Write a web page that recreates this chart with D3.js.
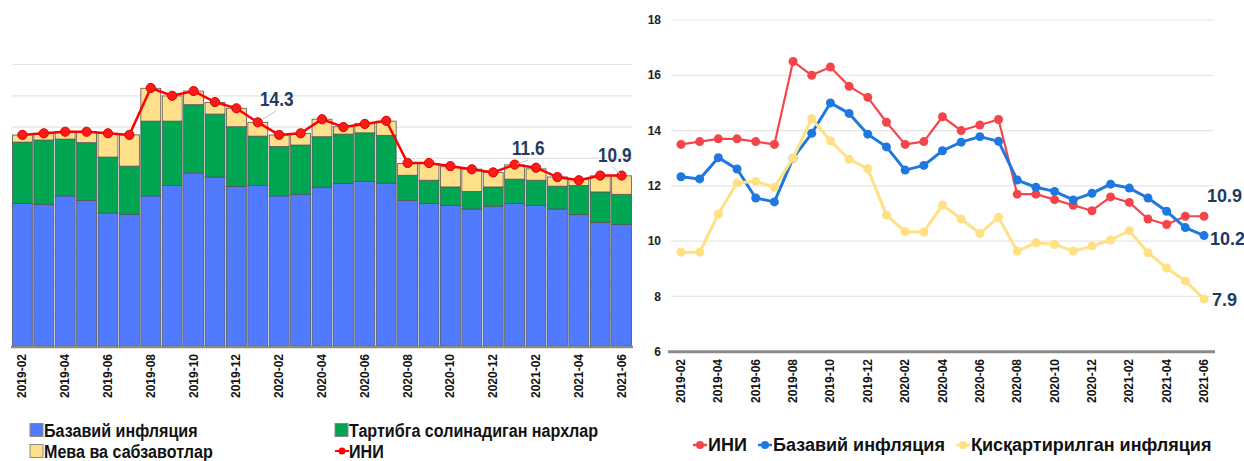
<!DOCTYPE html>
<html>
<head>
<meta charset="utf-8">
<script src="https://cdn.jsdelivr.net/npm/d3@7"></script>
<style>
  body { margin: 0; background: #fff; }
  svg { display: block; }
  text { font-family: "Liberation Sans", Arial, sans-serif; }
</style>
</head>
<body>
<div id="chart"></div>
<script>
// months shown on both charts
const months = ["2019-02","2019-03","2019-04","2019-05","2019-06","2019-07","2019-08","2019-09","2019-10","2019-11","2019-12",
  "2020-01","2020-02","2020-03","2020-04","2020-05","2020-06","2020-07","2020-08","2020-09","2020-10","2020-11","2020-12",
  "2021-01","2021-02","2021-03","2021-04","2021-05","2021-06"];

// left chart: contributions (stacked)
const baseContrib = [9.11,9.04,9.60,9.30,8.50,8.42,9.60,10.26,11.07,10.80,10.20,10.26,9.60,9.70,10.15,10.39,10.52,10.41,9.32,9.11,8.98,8.76,8.94,9.11,8.98,8.76,8.40,7.91,7.76];
const regContrib = [3.93,4.13,3.63,3.70,3.58,3.08,4.78,4.12,4.36,4.03,3.82,3.16,3.16,3.15,3.23,3.16,3.11,3.06,1.60,1.49,1.19,1.12,1.23,1.56,1.62,1.46,1.86,1.94,1.94];
const fruitContrib = [0.45,0.43,0.49,0.70,1.52,2.00,2.10,1.61,0.87,0.74,1.18,0.88,0.73,0.75,1.12,0.47,0.61,0.91,0.75,1.07,1.29,1.43,0.93,0.91,0.73,0.59,0.39,1.03,1.18];

// ИНИ (CPI), used on both charts
const cpi = [13.5,13.6,13.7,13.7,13.6,13.5,16.5,16.0,16.3,15.6,15.2,14.3,13.5,13.6,14.5,14.0,14.2,14.4,11.7,11.7,11.5,11.3,11.1,11.6,11.4,10.8,10.6,10.9,10.9];

// right chart: core and trimmed inflation
const core = [12.33,12.25,13.02,12.61,11.56,11.42,13.00,13.90,15.00,14.62,13.87,13.41,12.57,12.74,13.27,13.58,13.78,13.61,12.21,11.95,11.80,11.49,11.73,12.06,11.92,11.56,11.08,10.49,10.20];
const trimmed = [9.60,9.60,10.98,12.11,12.16,11.95,13.00,14.43,13.63,12.96,12.62,10.94,10.34,10.33,11.31,10.80,10.28,10.86,9.64,9.94,9.88,9.64,9.82,10.04,10.38,9.58,9.03,8.56,7.90];

const leftTicks = [2,4,6,8,10,12,14,16,18];
const rightTicks = [6,8,10,12,14,16,18];
const tickMonths = months.filter((m, i) => i % 2 === 0);

const W = 1244, H = 461;
const svg = d3.select("#chart").append("svg")
  .attr("width", W).attr("height", H);

// narrow bold text (Arial Narrow look, squeezed horizontally)
function narrowText(parent, x, y, txt, size, fill, sx) {
  return parent.append("text")
    .attr("transform", `translate(${x},${y}) scale(${sx || 0.82},1)`)
    .style("font-size", size + "px")
    .style("font-weight", "bold")
    .style("fill", fill)
    .text(txt);
}

// ---------- left chart ----------
const stackData = months.map((m, i) => ({month: m, base: baseContrib[i], reg: regContrib[i], fruit: fruitContrib[i]}));
const keys = ["base", "reg", "fruit"];
const barColors = {base: "#507bff", reg: "#00a651", fruit: "#ffe08a"};

const xL = d3.scaleBand().domain(months).range([12, 632]).paddingInner(0.07).paddingOuter(0.02);
const yL = d3.scaleLinear().domain([0, 18]).range([346, 64.5]);

const left = svg.append("g");

left.selectAll(".gridL")
  .data(leftTicks)
  .enter().append("line")
  .attr("x1", 12).attr("x2", 632)
  .attr("y1", d => yL(d)).attr("y2", d => yL(d))
  .attr("stroke", "#e4e4e4").attr("stroke-width", 1.2);

const series = d3.stack().keys(keys)(stackData);
left.selectAll(".layer")
  .data(series)
  .enter().append("g")
  .attr("fill", d => barColors[d.key])
  .selectAll("rect")
  .data(d => d)
  .enter().append("rect")
  .attr("x", d => xL(d.data.month))
  .attr("width", xL.bandwidth())
  .attr("y", d => yL(d[1]))
  .attr("height", d => yL(d[0]) - yL(d[1]))
  .attr("stroke", "#555")
  .attr("stroke-width", 0.8);

left.append("line")
  .attr("x1", 11).attr("x2", 633)
  .attr("y1", yL(0) + 1).attr("y2", yL(0) + 1)
  .attr("stroke", "#8a8a8a").attr("stroke-width", 2.5);

const lineL = d3.line()
  .x((d, i) => xL(months[i]) + xL.bandwidth() / 2)
  .y(d => yL(d));

left.append("path")
  .datum(cpi)
  .attr("d", lineL)
  .attr("fill", "none")
  .attr("stroke", "#ff0000")
  .attr("stroke-width", 2.5);

left.selectAll(".dotL")
  .data(cpi)
  .enter().append("circle")
  .attr("cx", (d, i) => xL(months[i]) + xL.bandwidth() / 2)
  .attr("cy", d => yL(d))
  .attr("r", 4.6)
  .attr("fill", "#ff1a1a")
  .attr("stroke", "#e00000")
  .attr("stroke-width", 1);

// x labels
left.selectAll(".xlabL")
  .data(tickMonths)
  .enter().append("text")
  .attr("transform", d => `translate(${xL(d) + xL.bandwidth() / 2 + 4},354) rotate(-90)`)
  .attr("text-anchor", "end")
  .style("font-size", "12px")
  .style("font-weight", "bold")
  .style("fill", "#111")
  .text(d => d);

// value callouts with leader lines
const callouts = [
  {idx: 11, tx: 260, ty: 106, l: [263, 119, 276, 111]},
  {idx: 23, tx: 512, ty: 155, l: [517, 164, 528, 160]},
  {idx: 28, tx: 598, ty: 162, l: [613, 167, 620, 174]}
];
callouts.forEach(c => {
  left.append("line")
    .attr("x1", c.l[0]).attr("y1", c.l[1])
    .attr("x2", c.l[2]).attr("y2", c.l[3])
    .attr("stroke", "#c4c4c4").attr("stroke-width", 1);
  narrowText(left, c.tx, c.ty, cpi[c.idx].toFixed(1), 21, "#243b5e");
});

// left legend
const legL = [
  {name: "Базавий инфляция", color: barColors.base, x: 30, y: 430, type: "rect"},
  {name: "Тартибга солинадиган нархлар", color: barColors.reg, x: 335, y: 430, type: "rect"},
  {name: "Мева ва сабзавотлар", color: barColors.fruit, x: 30, y: 451, type: "rect"},
  {name: "ИНИ", color: "#ff0000", x: 335, y: 451, type: "line"}
];
legL.forEach(l => {
  if (l.type === "rect") {
    left.append("rect")
      .attr("x", l.x).attr("y", l.y - 6.5)
      .attr("width", 13).attr("height", 13)
      .attr("fill", l.color).attr("stroke", "#8a8a8a").attr("stroke-width", 1);
  } else {
    left.append("line")
      .attr("x1", l.x).attr("x2", l.x + 14)
      .attr("y1", l.y).attr("y2", l.y)
      .attr("stroke", l.color).attr("stroke-width", 2);
    left.append("circle")
      .attr("cx", l.x + 7).attr("cy", l.y).attr("r", 3.5)
      .attr("fill", l.color);
  }
  narrowText(left, l.x + 14, l.y + 6.5, l.name, 18.5, "#111", 0.87);
});

// ---------- right chart ----------
const xR = d3.scalePoint().domain(months).range([681, 1204]);
const yR = d3.scaleLinear().domain([6, 18]).range([351.7, 20]);

const right = svg.append("g");

right.selectAll(".gridR")
  .data(rightTicks.filter(d => d > 6))
  .enter().append("line")
  .attr("x1", 671).attr("x2", 1213)
  .attr("y1", d => yR(d)).attr("y2", d => yR(d))
  .attr("stroke", "#e6e6e6").attr("stroke-width", 1.2);

right.append("line")
  .attr("x1", 668).attr("x2", 1215)
  .attr("y1", yR(6)).attr("y2", yR(6))
  .attr("stroke", "#8a8a8a").attr("stroke-width", 3);

right.selectAll(".ylabR")
  .data(rightTicks)
  .enter().append("text")
  .attr("x", 661)
  .attr("y", d => yR(d))
  .attr("dy", "0.35em")
  .attr("text-anchor", "end")
  .style("font-size", "12px")
  .style("font-weight", "bold")
  .style("fill", "#222")
  .text(d => d);

right.selectAll(".xlabR")
  .data(tickMonths)
  .enter().append("text")
  .attr("transform", d => `translate(${xR(d) + 4},359) rotate(-90)`)
  .attr("text-anchor", "end")
  .style("font-size", "12px")
  .style("font-weight", "bold")
  .style("fill", "#111")
  .text(d => d);

const rightSeries = [
  {name: "ИНИ", values: cpi, color: "#f4464a", width: 2.2},
  {name: "Базавий инфляция", values: core, color: "#1f78e0", width: 3},
  {name: "Қисқартирилган инфляция", values: trimmed, color: "#ffe083", width: 3}
];

const lineR = d3.line()
  .x((d, i) => xR(months[i]))
  .y(d => yR(d));

rightSeries.forEach(s => {
  right.append("path")
    .datum(s.values)
    .attr("d", lineR)
    .attr("fill", "none")
    .attr("stroke", s.color)
    .attr("stroke-width", s.width)
    .attr("stroke-linejoin", "round");
  right.selectAll(null)
    .data(s.values)
    .enter().append("circle")
    .attr("cx", (d, i) => xR(months[i]))
    .attr("cy", d => yR(d))
    .attr("r", 4.5)
    .attr("fill", s.color);
});

// end labels
const last = months.length - 1;
const endLabels = [
  {v: cpi[last], dx: 3, dy: -14},
  {v: core[last], dx: 6, dy: 9},
  {v: trimmed[last], dx: 8, dy: 7}
];
endLabels.forEach(e => {
  right.append("text")
    .attr("x", xR(months[last]) + e.dx)
    .attr("y", yR(e.v) + e.dy)
    .style("font-size", "18px")
    .style("font-weight", "bold")
    .style("fill", "#1f3a5f")
    .text(e.v.toFixed(1));
});

// right legend
const legR = [
  {s: rightSeries[0], x: 693},
  {s: rightSeries[1], x: 758},
  {s: rightSeries[2], x: 956}
];
legR.forEach(l => {
  const y = 445;
  right.append("line")
    .attr("x1", l.x).attr("x2", l.x + 14)
    .attr("y1", y).attr("y2", y)
    .attr("stroke", l.s.color).attr("stroke-width", 2.5);
  right.append("circle")
    .attr("cx", l.x + 7).attr("cy", y).attr("r", 4)
    .attr("fill", l.s.color);
  right.append("text")
    .attr("x", l.x + 15).attr("y", y)
    .attr("dy", "0.36em")
    .style("font-size", "18px")
    .style("font-weight", "bold")
    .style("fill", "#111")
    .text(l.s.name);
});
</script>
</body>
</html>
